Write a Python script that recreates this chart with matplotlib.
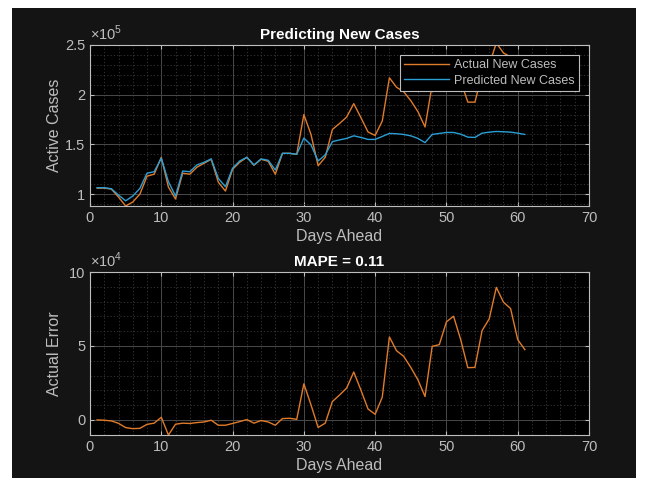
import matplotlib
matplotlib.use('Agg')
import matplotlib.pyplot as plt
import numpy as np
from matplotlib.ticker import MultipleLocator, FuncFormatter
from matplotlib.patches import Rectangle

plt.rcParams['font.family'] = ['Liberation Sans', 'DejaVu Sans']
plt.rcParams['mathtext.fontset'] = 'custom'
plt.rcParams['mathtext.rm'] = 'Liberation Sans'

# data (cases in units of 1e5, error in units of 1e4)
days = np.arange(1, 62)
actual = [1.06, 1.06, 1.05, 0.97, 0.88, 0.92, 1.00, 1.18, 1.20, 1.37,
          1.07, 0.95, 1.21, 1.20, 1.27, 1.31, 1.35, 1.12, 1.03, 1.25,
          1.32, 1.37, 1.29, 1.35, 1.33, 1.20, 1.41, 1.41, 1.40, 1.80,
          1.60, 1.285, 1.37, 1.65, 1.71, 1.775, 1.91, 1.77, 1.625, 1.59,
          1.735, 2.17, 2.075, 2.03, 1.94, 1.83, 1.675, 2.10, 2.12, 2.28,
          2.32, 2.14, 1.925, 1.925, 2.21, 2.30, 2.52, 2.42, 2.38, 2.15,
          2.08]
predicted = [1.064, 1.064, 1.054, 0.99, 0.932, 0.98, 1.057, 1.21, 1.225, 1.36,
             1.124, 0.98, 1.232, 1.225, 1.293, 1.32, 1.354, 1.158, 1.074, 1.26,
             1.333, 1.37, 1.293, 1.354, 1.34, 1.242, 1.41, 1.41, 1.40, 1.563,
             1.495, 1.333, 1.394, 1.528, 1.545, 1.56, 1.586, 1.57, 1.55, 1.55,
             1.58, 1.61, 1.607, 1.60, 1.586, 1.56, 1.518, 1.60, 1.61, 1.62,
             1.62, 1.603, 1.573, 1.57, 1.613, 1.623, 1.63, 1.627, 1.623, 1.613,
             1.60]
error = [0.0, -0.02, -0.07, -0.23, -0.52, -0.59, -0.57, -0.3, -0.22, 0.18,
         -1.02, -0.29, -0.22, -0.24, -0.18, -0.14, -0.02, -0.36, -0.36, -0.24,
         -0.11, 0.02, -0.22, -0.04, -0.14, -0.36, 0.09, 0.11, 0.04, 2.44,
         1.02, -0.51, -0.22, 1.24, 1.68, 2.15, 3.24, 2.02, 0.74, 0.38,
         1.54, 5.61, 4.68, 4.30, 3.55, 2.71, 1.58, 4.97, 5.09, 6.63,
         7.01, 5.43, 3.53, 3.55, 6.04, 6.83, 8.96, 7.96, 7.53, 5.43,
         4.75]

actual = np.array(actual) * 1e5
predicted = np.array(predicted) * 1e5
error = np.array(error) * 1e4

bg = '#141414'
fg = '#bdbdbd'
orange = '#e07b2a'
blue = '#2a9fd6'

fig = plt.figure(figsize=(6.48, 4.83), dpi=100)
fig.patch.set_facecolor('white')
fig.patches.append(Rectangle((12/648, 1-478/483), 624/648, 470/483,
                             transform=fig.transFigure, facecolor=bg,
                             edgecolor='none', zorder=-10))

ax1 = fig.add_axes([90/648, 1-206/483, 499/648, 161/483])
ax2 = fig.add_axes([90/648, 1-435/483, 499/648, 163/483])


def style(ax):
    ax.set_facecolor('black')
    for s in ax.spines.values():
        s.set_color(fg)
        s.set_linewidth(0.8)
    ax.tick_params(which='both', direction='in', colors=fg, labelsize=10.5,
                   top=True, right=True, length=3)
    ax.tick_params(which='minor', length=0)
    ax.grid(which='major', color='#4a4a4a', linewidth=0.7)
    ax.grid(which='minor', color='#3a3a3a', linewidth=0.6, linestyle=(0, (1.5, 2.5)))
    ax.set_axisbelow(True)
    ax.set_xlim(0, 70)
    ax.xaxis.set_major_locator(MultipleLocator(10))
    ax.xaxis.set_minor_locator(MultipleLocator(2))
    ax.set_xlabel('Days Ahead', color=fg, fontsize=11.5, labelpad=3)


style(ax1)
ax1.plot(days, actual, color=orange, lw=1.0, label='Actual New Cases')
ax1.plot(days, predicted, color=blue, lw=1.0, label='Predicted New Cases')
ax1.set_ylim(0.88e5, 2.5e5)
ax1.yaxis.set_major_locator(MultipleLocator(0.5e5))
ax1.yaxis.set_minor_locator(MultipleLocator(0.1e5))
ax1.yaxis.set_major_formatter(FuncFormatter(lambda v, p: '%g' % (v / 1e5)))
ax1.set_ylabel('Active Cases', color=fg, fontsize=11.5)
ax1.yaxis.set_label_coords(-0.056, 0.5)
ax1.set_title('Predicting New Cases', color='white', fontsize=11,
              fontweight='bold', pad=4)
ax1.text(0.0, 1.01, r'$\times10^5$', transform=ax1.transAxes, color=fg,
         fontsize=10.5, ha='left', va='bottom')
leg = ax1.legend(loc='upper right', fontsize=9, facecolor='black',
                 edgecolor=fg, framealpha=1, fancybox=False, borderpad=0.35,
                 handlelength=3.6, labelspacing=0.25, borderaxespad=0.8,
                 handletextpad=0.4)
for t in leg.get_texts():
    t.set_color(fg)
leg.get_frame().set_linewidth(0.8)

style(ax2)
ax2.plot(days, error, color=orange, lw=1.0)
ax2.set_ylim(-1.02e4, 1e5)
ax2.yaxis.set_major_locator(MultipleLocator(5e4))
ax2.yaxis.set_minor_locator(MultipleLocator(1e4))
ax2.yaxis.set_major_formatter(FuncFormatter(lambda v, p: '%g' % (v / 1e4)))
ax2.set_ylabel('Actual Error', color=fg, fontsize=11.5)
ax2.yaxis.set_label_coords(-0.056, 0.5)
ax2.set_title('MAPE = 0.11', color='white', fontsize=11,
              fontweight='bold', pad=4)
ax2.text(0.0, 1.01, r'$\times10^4$', transform=ax2.transAxes, color=fg,
         fontsize=10.5, ha='left', va='bottom')

fig.savefig('out.png', dpi=100, facecolor=fig.get_facecolor())
